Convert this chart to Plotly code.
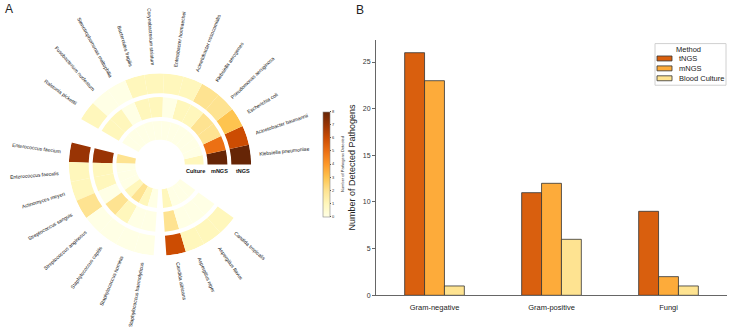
import math
import plotly.graph_objects as go

# ---------------- data ----------------
gn_pathogens = ["Klebsiella pneumoniae", "Acinetobacter baumannii", "Escherichia coli",
                "Pseudomonas aeruginosa", "Klebsiella aerogenes", "Acinetobacter nosocomialis",
                "Enterobacter hormaechei", "Corynebacterium striatum", "Bacteroides fragilis",
                "Stenotrophomonas maltophilia", "Fusobacterium nucleatum", "Ralstonia pickettii"]
gp_pathogens = ["Enterococcus faecium", "Enterococcus faecalis", "Actinomyces meyeri",
                "Streptococcus sanguis", "Streptococcus anginosus", "Staphylococcus capitis",
                "Staphylococcus hominis", "Staphylococcus haemolyticus"]
fungi_pathogens = ["Candida albicans", "Aspergillus niger", "Aspergillus flavus", "Candida tropicalis"]

gn_tngs = [8, 6, 3, 2, 2, 1, 1, 1, 1, 0, 0, 1]
gn_mngs = [8, 5, 2, 2, 1, 1, 0, 1, 1, 0, 1, 1]
gn_cult = [1, 0, 0, 0, 0, 0, 0, 0, 0, 0, 0, 0]
gp_tngs = [7, 1, 1, 2, 0, 0, 0, 0]
gp_mngs = [7, 1, 1, 0, 2, 1, 0, 0]
gp_cult = [2, 0, 0, 0, 1, 2, 1, 0]
fu_tngs = [6, 1, 1, 1]
fu_mngs = [2, 0, 0, 0]
fu_cult = [1, 0, 0, 0]

track_names = ["Culture", "mNGS", "tNGS"]

categories = ["Gram-negative", "Gram-positive", "Fungi"]
methods = ["tNGS", "mNGS", "Blood Culture"]
tngs_counts = [26, 11, 9]
mngs_counts = [23, 12, 2]
culture_counts = [1, 6, 1]

# ---------------- styling / geometry ----------------
W, H = 730, 331
CX, CY = 160, 166          # polar centre in pixels
RMAX = 92                  # radial range max (pixels)
SECTOR_W = 12.5            # degrees per pathogen
GAPS = [0, 16, 8]          # gap before each group
ring_base = [25, 48, 72]
ring_width = [19, 20, 20]
ylorbr = ["#ffffe5", "#fff7bc", "#fee391", "#fec44f", "#fe9929",
          "#ec7014", "#cc4c02", "#993404", "#662506"]
FONT = "Liberation Sans"

groups = [(gn_pathogens, gn_cult, gn_mngs, gn_tngs),
          (gp_pathogens, gp_cult, gp_mngs, gp_tngs),
          (fungi_pathogens, fu_cult, fu_mngs, fu_tngs)]

names, thetas, vals = [], [], [[], [], []]
pos = 0.0
for gi, (pn, c, m, t) in enumerate(groups):
    pos += GAPS[gi]
    for i, p in enumerate(pn):
        names.append(p)
        thetas.append(pos + SECTOR_W / 2)
        vals[0].append(c[i]); vals[1].append(m[i]); vals[2].append(t[i])
        pos += SECTOR_W

fig = go.Figure()
for k in range(3):
    fig.add_trace(go.Barpolar(
        theta=thetas, r=[ring_width[k]] * len(thetas), base=[ring_base[k]] * len(thetas),
        width=[SECTOR_W] * len(thetas),
        marker=dict(color=vals[k], coloraxis="coloraxis", line=dict(width=0)),
        showlegend=False, name=track_names[k], subplot="polar",
    ))

fig.update_layout(
    polar=dict(
        domain=dict(x=[(CX - RMAX) / W, (CX + RMAX) / W],
                    y=[1 - (CY + RMAX) / H, 1 - (CY - RMAX) / H]),
        bgcolor="white",
        radialaxis=dict(range=[0, RMAX], visible=False),
        angularaxis=dict(rotation=0, direction="counterclockwise", visible=False),
        bargap=0,
    ),
    coloraxis=dict(
        colorscale=[[i / 8, c] for i, c in enumerate(ylorbr)], cmin=0, cmax=8,
        colorbar=dict(
            x=313 / W, xanchor="left", y=1 - 165.5 / H, yanchor="middle",
            len=125, lenmode="pixels", thickness=7, thicknessmode="pixels",
            outlinewidth=0.6, outlinecolor="#888",
            tickvals=list(range(0, 9)), tickfont=dict(size=4, color="#333"),
            ticks="outside", ticklen=1.5, tickwidth=0.5,
            title=dict(text="Number of Pathogens Detected", side="right",
                       font=dict(size=4, color="#333")),
        ),
    ),
)

annotations = []
for name, th in zip(names, thetas):
    tm = th % 360
    est_len = len(name) * 2.45
    rc = 100 + est_len / 2
    px = CX + rc * math.cos(math.radians(th))
    py = CY - rc * math.sin(math.radians(th))
    ang = 180 - tm if 90 < tm < 270 else -(tm if tm <= 90 else tm - 360)
    annotations.append(dict(x=px / W, y=1 - py / H, xref="paper", yref="paper",
                            text=name, textangle=ang, showarrow=False,
                            xanchor="center", yanchor="middle",
                            font=dict(size=5, color="#111", family=FONT)))
for k in range(3):
    annotations.append(dict(x=(CX + ring_base[k] + ring_width[k] / 2 + 1) / W, y=1 - 173 / H,
                            xref="paper", yref="paper", text="<b>%s</b>" % track_names[k],
                            showarrow=False, xanchor="center", yanchor="middle",
                            font=dict(size=5.5, color="#111", family=FONT)))
annotations.append(dict(x=3 / W, y=1 - 9 / H, xref="paper", yref="paper", text="A",
                        showarrow=False, xanchor="left", yanchor="middle",
                        font=dict(size=12, color="#222", family=FONT)))
annotations.append(dict(x=354 / W, y=1 - 10 / H, xref="paper", yref="paper", text="B",
                        showarrow=False, xanchor="left", yanchor="middle",
                        font=dict(size=12, color="#222", family=FONT)))
# y-axis title for panel B
annotations.append(dict(x=352 / W, y=1 - 169 / H, xref="paper", yref="paper",
                        text="Number of Detected Pathogens", textangle=-90, showarrow=False,
                        xanchor="center", yanchor="middle",
                        font=dict(size=9, color="#222", family=FONT)))

# ---------------- panel B ----------------
bar_colors = {"tNGS": "#d95f0e", "mNGS": "#fdab3a", "Blood Culture": "#fee391"}
for nm, vv in zip(methods, [tngs_counts, mngs_counts, culture_counts]):
    fig.add_trace(go.Bar(x=categories, y=vv, name=nm, xaxis="x", yaxis="y", showlegend=False,
                         marker=dict(color=bar_colors[nm], line=dict(color="#333", width=0.8))))

# manual compact legend
shapes = [dict(type="rect", xref="paper", yref="paper", x0=655 / W, x1=726 / W,
               y0=1 - 86 / H, y1=1 - 44 / H, line=dict(color="#d0d0d0", width=1),
               fillcolor="white", layer="above")]
annotations.append(dict(x=688 / W, y=1 - 49.5 / H, xref="paper", yref="paper", text="Method",
                        showarrow=False, xanchor="center", yanchor="middle",
                        font=dict(size=7.5, color="#222", family=FONT)))
for i, nm in enumerate(methods):
    yc = 59 + 10 * i
    shapes.append(dict(type="rect", xref="paper", yref="paper", x0=657 / W, x1=672 / W,
                       y0=1 - (yc + 2.5) / H, y1=1 - (yc - 2.5) / H,
                       fillcolor=bar_colors[nm], line=dict(color="#333", width=0.8),
                       layer="above"))
    annotations.append(dict(x=677 / W, y=1 - yc / H, xref="paper", yref="paper", text=nm,
                            showarrow=False, xanchor="left", yanchor="middle",
                            font=dict(size=7.5, color="#222", family=FONT)))

fig.update_layout(
    width=W, height=H, margin=dict(l=0, r=0, t=0, b=0),
    paper_bgcolor="white", plot_bgcolor="white",
    font=dict(family=FONT, color="#222"),
    barmode="group", bargap=0.49, bargroupgap=0, showlegend=False,
    xaxis=dict(domain=[376 / W, 727 / W], anchor="y", showline=True, linecolor="#666",
               linewidth=1, ticks="", tickfont=dict(size=7.5, color="#222"),
               ticklabelstandoff=5, showgrid=False, zeroline=False),
    yaxis=dict(domain=[1 - 298 / H, 1 - 40 / H], anchor="x", range=[0, 27.4],
               showline=True, linecolor="#666", linewidth=1, ticks="outside",
               ticklen=3, tickcolor="#666", tickvals=[0, 5, 10, 15, 20, 25],
               tickfont=dict(size=7, color="#333"), showgrid=False, zeroline=False),
    annotations=annotations, shapes=shapes,
)

fig.write_html("out.html")
